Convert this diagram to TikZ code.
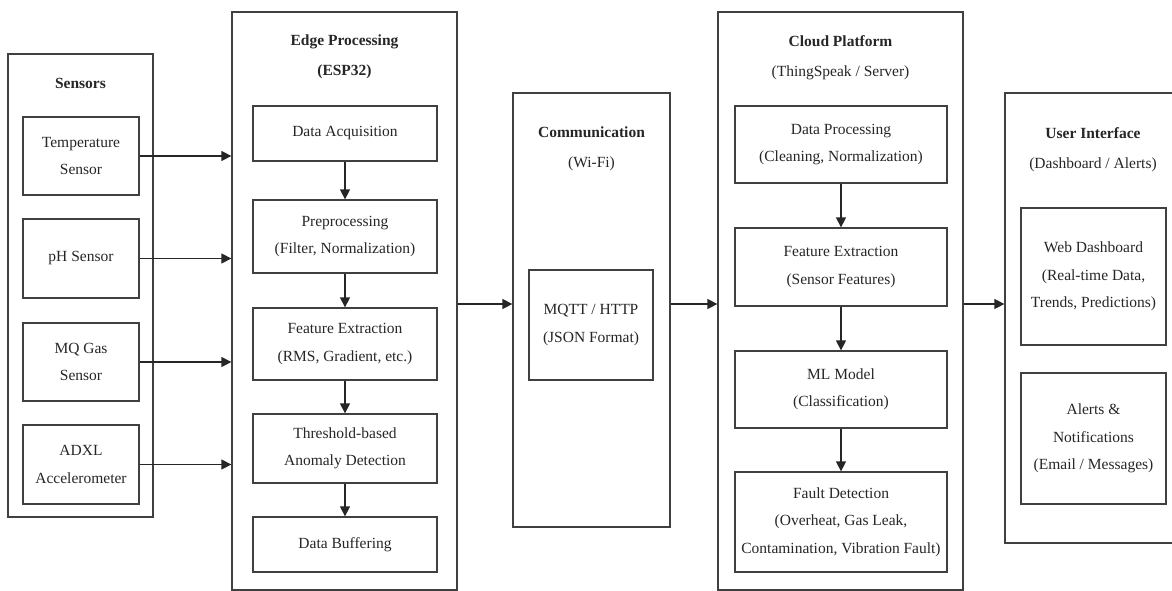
\documentclass[tikz,border=0pt]{standalone}
\usepackage{fontspec}
\setmainfont{LiberationSerif-Regular.ttf}[BoldFont=LiberationSerif-Bold.ttf]
\usetikzlibrary{arrows.meta}
\begin{document}
\begin{tikzpicture}[x=1pt,y=-1pt,
  box/.style={draw=black!75, line width=1.3pt, inner sep=0pt, align=center, text=black!85,
    font=\fontsize{15.5}{27.5}\selectfont},
  title/.style={align=center, text=black!85, inner sep=0pt, font=\fontsize{15.5}{30}\selectfont},
  arr/.style={draw=black!85, line width=1.3pt, -{Triangle[length=10pt,width=10pt]}}]
\useasboundingbox (0,0) rectangle (1172,590);
\clip (0,0) rectangle (1172,590);
\fill[white] (0,0) rectangle (1172,590);

% Sensors
\node[box, minimum width=145, minimum height=463] (sensors) at (80.5,285.5) {};
\node[title] (sensorsT) at (80.5,83) {\textbf{Sensors}};
\node[box, minimum width=116, minimum height=78] (temp) at (81,156) {Temperature\\Sensor};
\node[box, minimum width=116, minimum height=79] (ph) at (81,258.5) {pH Sensor};
\node[box, minimum width=116, minimum height=78] (mq) at (81,362) {MQ Gas\\Sensor};
\node[box, minimum width=116, minimum height=79] (adxl) at (81,464.5) {ADXL\\Accelerometer};

% Edge processing
\node[box, minimum width=225, minimum height=578] (edge) at (344.5,301) {};
\node[title] (edgeT) at (344.5,57) {\textbf{Edge Processing}\\\textbf{(ESP32)}};
\node[box, minimum width=184, minimum height=55] (acq) at (345,133.5) {Data Acquisition};
\node[box, minimum width=184, minimum height=73] (pre) at (345,236.5) {Preprocessing\\(Filter, Normalization)};
\node[box, minimum width=184, minimum height=72] (feat) at (345,344) {Feature Extraction\\(RMS, Gradient, etc.)};
\node[box, minimum width=184, minimum height=69] (thr) at (345,448.5) {Threshold-based\\Anomaly Detection};
\node[box, minimum width=184, minimum height=55] (buf) at (345,544.5) {Data Buffering};

% Communication
\node[box, minimum width=157, minimum height=434] (comm) at (591.5,310) {};
\node[title] (commT) at (591.5,149) {\textbf{Communication}\\(Wi-Fi)};
\node[box, minimum width=124, minimum height=110] (mqtt) at (591,325) {MQTT / HTTP\\(JSON Format)};

% Cloud
\node[box, minimum width=245, minimum height=578] (cloud) at (840.5,301) {};
\node[title] (cloudT) at (840.5,57.5) {\textbf{Cloud Platform}\\(ThingSpeak / Server)};
\node[box, minimum width=212, minimum height=77] (dp) at (841,144.5) {Data Processing\\(Cleaning, Normalization)};
\node[box, minimum width=212, minimum height=78] (cfe) at (841,267) {Feature Extraction\\(Sensor Features)};
\node[box, minimum width=212, minimum height=77] (ml) at (841,389.5) {ML Model\\(Classification)};
\node[box, minimum width=212, minimum height=100] (fd) at (841,522) {Fault Detection\\(Overheat, Gas Leak,\\Contamination, Vibration Fault)};

% User interface
\node[box, minimum width=175, minimum height=450] (ui) at (1092.5,318) {};
\node[title] (uiT) at (1093,150) {\textbf{User Interface}\\(Dashboard / Alerts)};
\node[box, minimum width=145, minimum height=137] (web) at (1093.5,276.5) {Web Dashboard\\(Real-time Data,\\Trends, Predictions)};
\node[box, minimum width=145, minimum height=131] (alerts) at (1093.5,438.5) {Alerts \&\\Notifications\\(Email / Messages)};

% Connectors
\coordinate (flowy) at (0,304);
\foreach \s in {temp,ph,mq,adxl}
  \draw[arr] (\s.east) -- (edge.west |- \s.east);
\draw[arr] (acq) -- (pre);
\draw[arr] (pre) -- (feat);
\draw[arr] (feat) -- (thr);
\draw[arr] (thr) -- (buf);
\draw[arr] (edge.east |- flowy) -- (comm.west |- flowy);
\draw[arr] (comm.east |- flowy) -- (cloud.west |- flowy);
\draw[arr] (cloud.east |- flowy) -- (ui.west |- flowy);
\draw[arr] (dp) -- (cfe);
\draw[arr] (cfe) -- (ml);
\draw[arr] (ml) -- (fd);
\end{tikzpicture}
\end{document}
